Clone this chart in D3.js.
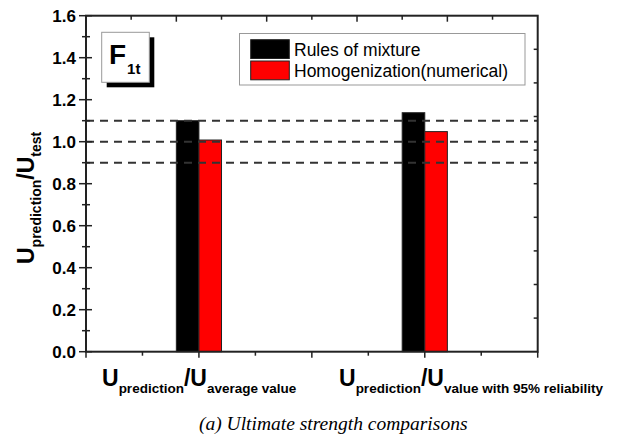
<!DOCTYPE html>
<html lang="en">
<head>
    <meta charset="UTF-8">
    <title>Ultimate strength comparisons</title>
    <style>
        body { margin: 0; background: #fff; }
        svg { display: block; font-family: Arial, "Liberation Sans", sans-serif; }
        .tick-label { font-size: 17px; font-weight: bold; }
        .legend-text { font-size: 17.5px; }
    </style>
    <script src="https://d3js.org/d3.v7.min.js"></script>
</head>
<body>
<script>
    // data
    const categories = [1, 3];
    const series = ['Rules of mixture', 'Homogenization(numerical)'];
    const colors = ['#000000', '#ff0000'];
    const values = [
        [1.100, 1.138],   // Rules of mixture
        [1.008, 1.048]    // Homogenization(numerical)
    ];
    const refLines = [0.9, 1.0, 1.1];
    const yTicks = [0, 0.2, 0.4, 0.6, 0.8, 1.0, 1.2, 1.4, 1.6];

    const width = 619, height = 438;
    const svg = d3.select('body').append('svg')
        .attr('width', width)
        .attr('height', height);

    const x = d3.scaleLinear().domain([0, 4]).range([86, 537.7]);
    const y = d3.scaleLinear().domain([0, 1.6]).range([351.7, 15.7]);
    const barW = 0.2;

    // bars
    series.forEach((s, i) => {
        svg.append('g').selectAll('rect')
            .data(categories)
            .join('rect')
            .attr('x', d => i === 0 ? x(d - barW) : x(d))
            .attr('y', (d, j) => y(values[i][j]))
            .attr('width', x(barW) - x(0))
            .attr('height', (d, j) => y(0) - y(values[i][j]))
            .attr('fill', colors[i])
            .attr('stroke', '#222')
            .attr('stroke-width', 1);
    });

    // dashed reference lines
    svg.append('g').selectAll('line')
        .data(refLines)
        .join('line')
        .attr('x1', x(0)).attr('x2', x(4))
        .attr('y1', d => y(d)).attr('y2', d => y(d))
        .attr('stroke', '#333')
        .attr('stroke-width', 2)
        .attr('stroke-dasharray', '8,6');

    // frame
    svg.append('rect')
        .attr('x', x(0)).attr('y', y(1.6))
        .attr('width', x(4) - x(0)).attr('height', y(0) - y(1.6))
        .attr('fill', 'none')
        .attr('stroke', '#222')
        .attr('stroke-width', 2);

    const axes = svg.append('g').attr('stroke', '#222').attr('stroke-width', 1.5);

    // left axis ticks (crossing the axis)
    axes.selectAll('.ly')
        .data(d3.range(0, 17).map(d => d / 10))
        .join('line')
        .attr('x1', (d, i) => i % 2 === 0 ? x(0) - 7 : x(0) - 4)
        .attr('x2', (d, i) => i % 2 === 0 ? x(0) + 6 : x(0) + 4)
        .attr('y1', d => y(d)).attr('y2', d => y(d));

    // bottom axis ticks (outward)
    axes.selectAll('.bx')
        .data(d3.range(0, 9).map(d => d / 2))
        .join('line')
        .attr('x1', d => x(d)).attr('x2', d => x(d))
        .attr('y1', y(0))
        .attr('y2', (d, i) => i % 2 === 0 ? y(0) + 6 : y(0) + 4);

    // top axis ticks (inward)
    axes.selectAll('.tx')
        .data(d3.range(1, 10).map(d => d * 0.4))
        .join('line')
        .attr('x1', d => x(d)).attr('x2', d => x(d))
        .attr('y1', y(1.6))
        .attr('y2', (d, i) => i % 2 === 1 ? y(1.6) + 6 : y(1.6) + 4);

    // right axis ticks (inward)
    axes.selectAll('.ry')
        .data(d3.range(1, 10).map(d => d * 0.16))
        .join('line')
        .attr('x1', x(4)).attr('x2', x(4) - 4)
        .attr('y1', d => y(d)).attr('y2', d => y(d));

    // y tick labels
    svg.append('g').selectAll('text')
        .data(yTicks)
        .join('text')
        .attr('class', 'tick-label')
        .attr('x', 76)
        .attr('y', d => y(d) + 6)
        .attr('text-anchor', 'end')
        .text(d => d.toFixed(1));

    // y axis title
    const yt = svg.append('text')
        .attr('transform', 'translate(34,264) rotate(-90)')
        .attr('font-weight', 'bold');
    yt.append('tspan').attr('font-size', 23).text('U');
    yt.append('tspan').attr('font-size', 14).attr('dy', 7).text('prediction');
    yt.append('tspan').attr('font-size', 23).attr('dy', -7).text('/U');
    yt.append('tspan').attr('font-size', 14).attr('dy', 7).text('test');

    // category labels
    const catLabels = [
        { x: 102, sub1: 'prediction', sub2: 'average value' },
        { x: 339, sub1: 'prediction', sub2: 'value with 95% reliability' }
    ];
    catLabels.forEach(c => {
        const t = svg.append('text')
            .attr('x', c.x).attr('y', 386)
            .attr('font-weight', 'bold');
        t.append('tspan').attr('font-size', 23).text('U');
        t.append('tspan').attr('font-size', 13.5).attr('dy', 7).text(c.sub1);
        t.append('tspan').attr('font-size', 23).attr('dy', -7).text('/U');
        t.append('tspan').attr('font-size', 13.5).attr('dy', 7).text(c.sub2);
    });

    // F1t badge
    svg.append('rect')
        .attr('x', 106.7).attr('y', 37.3).attr('width', 47.6).attr('height', 50)
        .attr('fill', '#000');
    svg.append('rect')
        .attr('x', 101.7).attr('y', 32.3).attr('width', 47.6).attr('height', 50)
        .attr('fill', '#fff').attr('stroke', '#999').attr('stroke-width', 1);
    const ft = svg.append('text')
        .attr('x', 109).attr('y', 64)
        .attr('font-weight', 'bold');
    ft.append('tspan').attr('font-size', 28).text('F');
    ft.append('tspan').attr('font-size', 15).attr('dy', 10).attr('dx', 1).text('1t');

    // legend
    const legend = svg.append('g');
    legend.append('rect')
        .attr('x', 239.5).attr('y', 33.5).attr('width', 285.5).attr('height', 51.5)
        .attr('fill', '#fff').attr('stroke', '#999').attr('stroke-width', 1);
    series.forEach((s, i) => {
        legend.append('rect')
            .attr('x', 250.7).attr('y', 39.7 + i * 21.3)
            .attr('width', 38.6).attr('height', 18.8)
            .attr('fill', colors[i]).attr('stroke', '#222').attr('stroke-width', 1);
        legend.append('text')
            .attr('class', 'legend-text')
            .attr('x', 294).attr('y', 55.5 + i * 21.3)
            .text(s);
    });

    // caption
    svg.append('text')
        .attr('x', 199).attr('y', 430)
        .attr('font-family', '"Liberation Serif", "Times New Roman", serif')
        .attr('font-style', 'italic')
        .attr('font-size', 19.5)
        .text('(a)  Ultimate strength comparisons');
</script>
</body>
</html>
